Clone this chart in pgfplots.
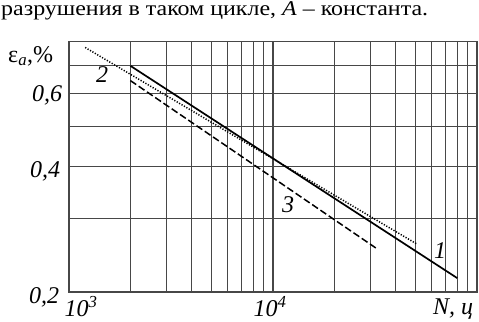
\documentclass[border=0pt]{standalone}
\usepackage{fontspec}
\setmainfont{Liberation Serif}
\usepackage{pgfplots}
\pgfplotsset{compat=1.18}
\begin{document}
\begin{tikzpicture}[x=1bp,y=1bp]
\useasboundingbox (0,0) rectangle (479,321);
\begin{axis}[
  at={(69bp,29bp)}, anchor=south west,
  scale only axis, width=408bp, height=250.3bp,
  xmode=log, ymode=log,
  xmin=1000, xmax=100000, ymin=0.2, ymax=0.8,
  xtick={1000,2000,3000,4000,5000,6000,7000,8000,9000,10000,20000,30000,40000,50000,60000,70000,80000,90000,100000},
  ytick={0.2,0.3,0.4,0.5,0.6,0.7,0.8},
  xticklabels={}, yticklabels={},
  minor tick num=0,
  major tick length=0pt,
  xmajorgrids, ymajorgrids,
  grid style={draw=black!72, line width=1.2bp},
  axis line style={draw=black!72, line width=1.2bp},
  clip=false,
]
\addplot[black, line width=1.7bp] coordinates {(2000,0.70) (80000,0.216)};
\addplot[black, line width=1.5bp, dash pattern=on 1.2bp off 1.6bp] coordinates {(1200,0.775) (50600,0.261)};
\addplot[black, line width=1.5bp, dash pattern=on 7bp off 3bp] coordinates {(2000,0.645) (32000,0.255)};
\end{axis}
\begin{scope}[every node/.style={inner sep=0pt, font=\fontsize{24bp}{26bp}\selectfont\itshape}]
\node[anchor=base] at (47,219.3) {0,6};
\node[anchor=base] at (45,144) {0,4};
\node[anchor=base] at (44,18) {0,2};
\node[anchor=base] at (81,5) {10\textsuperscript{3}};
\node[anchor=base] at (270,5) {10\textsuperscript{4}};
\node[anchor=base] at (453,6.5) {N, ц};
\node[anchor=base] at (102,239) {2};
\node[anchor=base] at (288,109) {3};
\node[anchor=base] at (440,63) {1};
\node[anchor=base west] at (8,259) {\upshape ε\textsubscript{\itshape a},\%};
\end{scope}
\node[anchor=base west, inner sep=0pt, xscale=1.14, font=\fontsize{21bp}{23bp}\selectfont] at (1,306) {разрушения в таком цикле, \textit{A} – константа.};
\end{tikzpicture}
\end{document}
